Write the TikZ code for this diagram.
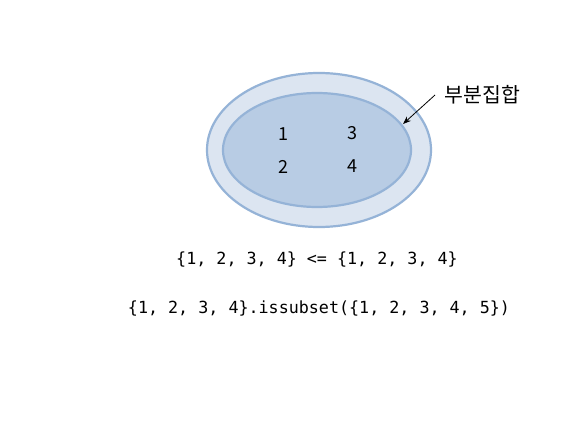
\documentclass[tikz,border=0pt]{standalone}
\usepackage{fontspec}
\newfontfamily\kr{Noto Sans CJK KR}
\newfontfamily\mono{DejaVu Sans Mono}
\usetikzlibrary{arrows.meta}
\definecolor{outerfill}{HTML}{DCE5F1}
\definecolor{innerfill}{HTML}{B8CCE4}
\definecolor{edgeblue}{HTML}{95B3D7}
\tikzset{
  digit/.style={font=\kr\fontsize{18}{18}\selectfont, inner sep=0pt},
  code/.style={font=\mono\fontsize{16.7}{16.7}\selectfont, inner sep=0pt},
  lbl/.style={font=\kr\fontsize{20.5}{20.5}\selectfont, inner sep=0pt}
}
\begin{document}
\begin{tikzpicture}[x=1pt,y=-1pt]
\useasboundingbox (0,0) rectangle (581,441);
\fill[white] (0,0) rectangle (581,441);
\draw[edgeblue, line width=2.2pt, fill=outerfill] (319,150) ellipse [x radius=112, y radius=77];
\draw[edgeblue, line width=2.2pt, fill=innerfill] (317,150) ellipse [x radius=94, y radius=57];
\coordinate (tip) at (403,124);
\node[digit] (n1) at (283,134) {1};
\node[digit] (n3) at (352,133) {3};
\node[digit] (n2) at (283,167) {2};
\node[digit] (n4) at (352,166) {4};
\node[lbl] (sub) at (482.5,95) {부분집합};
\coordinate (start) at (435,95);
\draw[-{Stealth[length=8pt,width=6pt]}, line width=0.8pt] (start) -- (tip);
\node[code] (c1) at (317,260) {\{1, 2, 3, 4\} <= \{1, 2, 3, 4\}};
\node[code] (c2) at (319,309) {\{1, 2, 3, 4\}.issubset(\{1, 2, 3, 4, 5\})};
\end{tikzpicture}
\end{document}
